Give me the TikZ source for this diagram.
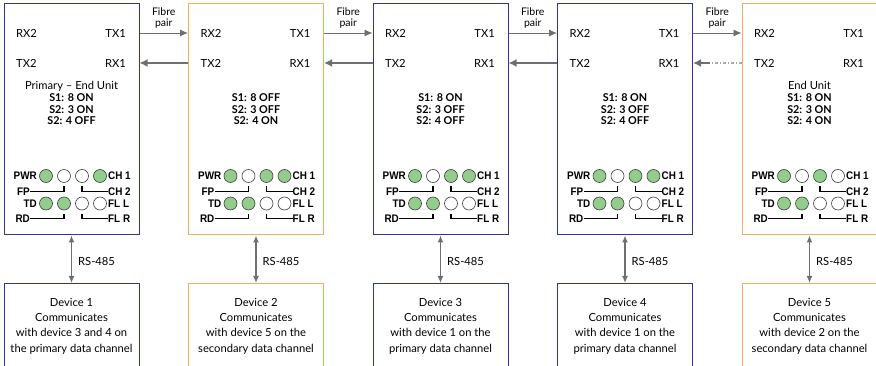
\documentclass[tikz,border=0pt]{standalone}
\usepackage{fontspec}
\setmainfont{Lato}
\newfontfamily\ledfont[FakeStretch=0.9]{Liberation Sans}
\usetikzlibrary{arrows.meta}

\definecolor{unitblue}{RGB}{50,52,146}
\definecolor{unitorange}{RGB}{245,172,94}
\definecolor{linkgrey}{RGB}{110,111,114}
\definecolor{dotgrey}{RGB}{170,170,172}
\definecolor{ledon}{RGB}{146,205,140}

\begin{document}
\begin{tikzpicture}[x=1pt, y=-1pt, >=Latex,
		font=\fontsize{11.2}{13}\selectfont,
		unit/.style={draw=#1, line width=1pt, minimum width=135pt, minimum height=231pt, inner sep=0pt},
		device/.style={draw=#1, line width=1pt, minimum width=135pt, minimum height=100pt, inner sep=0pt, anchor=north},
		port/.style={inner sep=0pt},
		setting/.style={inner sep=0pt, align=center, anchor=south, font=\bfseries\fontsize{10.8}{11.5}\selectfont},
		devtext/.style={inner sep=0pt, align=center, anchor=north, font=\fontsize{11.2}{15.3}\selectfont},
		led/.style={circle, draw=black!75, line width=0.6pt, minimum size=13pt, inner sep=0pt, fill=#1},
		ledlabel/.style={inner sep=0pt, font=\ledfont\bfseries\fontsize{11}{12}\selectfont},
		bracket/.style={line width=1.1pt},
		fibre/.style={draw=linkgrey, line width=0.9pt, -{Latex[length=8pt,width=7pt]}},
		fibrethick/.style={draw=linkgrey, line width=1.8pt, -{Latex[length=8pt,width=8pt]}},
		fibredot/.style={draw=dotgrey, line width=1.8pt, dash pattern=on 3pt off 2pt on 1pt off 2pt},
		fibrelabel/.style={above=4pt, inner sep=0pt, align=center, font=\fontsize{10.5}{11.5}\selectfont},
		rsbus/.style={draw=linkgrey, line width=1.3pt, {Latex[length=7pt,width=6pt]}-{Latex[length=7pt,width=6pt]}},
		rslabel/.style={right=6pt, inner sep=0pt, yshift=-2pt}]
	\useasboundingbox (0,0) rectangle (876,366);
	\clip (0,0) rectangle (876,366);

	% repeater units and their devices
	\foreach \i/\col/\title/\sa/\sb/\sc/\pwr/\dev [evaluate=\i as \xl using 4+184.5*(\i-1)] in {
		1/unitblue/{Primary -- End Unit}/ON/ON/OFF/{ledon,white,white,ledon}/{Device 1\\Communicates\\with device 3 and 4 on\\the primary data channel},
		2/unitorange/{}/OFF/OFF/ON/{ledon,white,ledon,ledon}/{Device 2\\Communicates\\with device 5 on the\\secondary data channel},
		3/unitblue/{}/ON/OFF/OFF/{ledon,white,ledon,ledon}/{Device 3\\Communicates\\with device 1 on the\\primary data channel},
		4/unitblue/{}/ON/OFF/OFF/{ledon,white,ledon,ledon}/{Device 4\\Communicates\\with device 1 on the\\primary data channel},
		5/unitorange/{End Unit}/ON/ON/ON/{ledon,white,ledon,white}/{Device 5\\Communicates\\with device 2 on the\\secondary data channel}}{
		\node[unit=\col] (u\i) at (\xl+67.5,119.5) {};
		\node[port, anchor=west] (rxa\i) at (\xl+12,33) {RX2};
		\node[port, anchor=east] (txa\i) at (\xl+122,33) {TX1};
		\node[port, anchor=west] (txb\i) at (\xl+12,63) {TX2};
		\node[port, anchor=east] (rxb\i) at (\xl+122,63) {RX1};
		\node[port, anchor=base] (tt\i) at (\xl+67.5,90) {\title};
		\node[setting] (set\i) at (\xl+67.5,125) {S1: 8 \sa\\S2: 3 \sb\\S2: 4 \sc};

		% status leds
		\foreach \fc [count=\k] in \pwr
			\node[led=\fc] (la\i\k) at (\xl+24+18*\k,176) {};
		\foreach \fc [count=\k] in {ledon,ledon,white,white}
			\node[led=\fc] (lb\i\k) at (\xl+24+18*\k,203.5) {};
		\node[ledlabel, anchor=east] (pwr\i) at (\xl+33,176) {PWR};
		\node[ledlabel, anchor=east] (fp\i) at (\xl+26,191.5) {FP};
		\node[ledlabel, anchor=east] (td\i) at (\xl+33,203.5) {TD};
		\node[ledlabel, anchor=east] (rd\i) at (\xl+26,218.5) {RD};
		\node[ledlabel, anchor=west] (cha\i) at (\xl+104,176) {CH 1};
		\node[ledlabel, anchor=west] (chb\i) at (\xl+104,191.5) {CH 2};
		\node[ledlabel, anchor=west] (fll\i) at (\xl+104,203.5) {FL L};
		\node[ledlabel, anchor=west] (flr\i) at (\xl+104,218.5) {FL R};
		\draw[bracket] (fp\i.east) -| ([yshift=-3.5pt]la\i2.south);
		\draw[bracket] ([yshift=-3.5pt]la\i3.south) |- (chb\i.west);
		\draw[bracket] (rd\i.east) -| ([yshift=-3.5pt]lb\i2.south);
		\draw[bracket] ([yshift=-3.5pt]lb\i3.south) |- (flr\i.west);

		\node[device=\col] (d\i) at (\xl+67.5,283) {};
		\node[devtext] (dt\i) at (\xl+67.5,298) {\dev};
		\draw[rsbus] (u\i) -- node[rslabel]{RS-485} (d\i);
	}

	% fibre pairs
	\foreach \i/\j in {1/2,2/3,3/4,4/5}
		\draw[fibre] (u\i.east |- txa\i) -- node[fibrelabel]{Fibre\\pair} (u\j.west |- rxa\j);
	\foreach \i/\j in {1/2,2/3,3/4}
		\draw[fibrethick] (u\j.west |- txb\j) -- (u\i.east |- rxb\i);
	\path (u4.east |- rxb4) -- coordinate[pos=0.36] (brk) (u5.west |- txb5);
	\draw[fibrethick] (brk) -- (u4.east |- rxb4);
	\draw[fibredot] (u5.west |- txb5) -- (brk);
\end{tikzpicture}
\end{document}
